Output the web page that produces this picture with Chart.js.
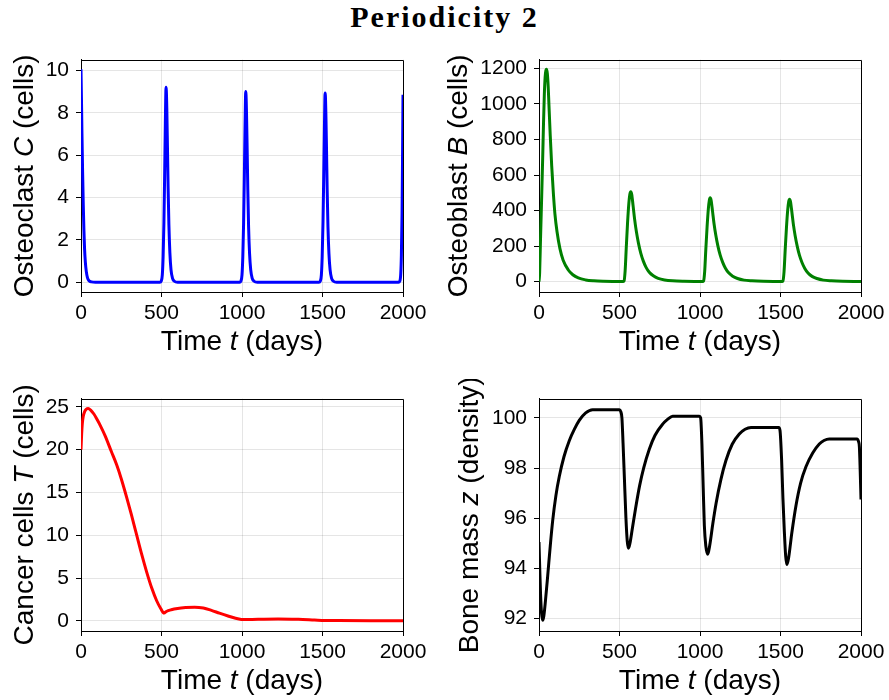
<!DOCTYPE html>
<html>
<head>
<meta charset="utf-8">
<script src="https://cdn.jsdelivr.net/npm/chart.js@4.4.0/dist/chart.umd.min.js"></script>
<style>
  body { margin: 0; background: #fff; }
  #page { position: relative; width: 889px; height: 700px; background: #fff; }
  #title { position: absolute; left: 0; top: 2px; width: 889px; text-align: center;
           font: bold 30px/30px "Liberation Serif", serif; letter-spacing: 2px; color: #000; }
  canvas { position: absolute; }
</style>
</head>
<body>
<div id="page">
  <div id="title">Periodicity 2</div>
  <canvas id="cChart" width="440" height="330" style="left:0;top:40px"></canvas>
  <canvas id="bChart" width="445" height="330" style="left:444px;top:40px"></canvas>
  <canvas id="tChart" width="440" height="321" style="left:0;top:379px"></canvas>
  <canvas id="zChart" width="445" height="321" style="left:444px;top:379px"></canvas>
</div>
<script>
// time axis
var timeTicks = [0, 500, 1000, 1500, 2000];

// osteoclast C (cells), [t, value]
var osteoclastC = [
  [0,10.05],[3,8.6],[6,7.0],[10,5.2],[14,3.7],[18,2.5],[22,1.6],[27,0.95],[33,0.5],[40,0.22],[50,0.07],[65,0.02],[90,0],
  [490,0],[498,0.05],[505,0.35],[510,1.2],[515,2.8],[519,4.8],[523,7.0],[526,8.6],[528,9.2],[530,9.05],[533,8.2],[537,6.4],[541,4.5],[546,2.7],[552,1.4],[559,0.6],[568,0.2],[580,0.05],[600,0],
  [985,0],[993,0.05],[1000,0.35],[1005,1.2],[1010,2.8],[1014,4.7],[1018,6.9],[1021,8.4],[1023,9.0],[1025,8.85],[1028,8.0],[1032,6.3],[1036,4.4],[1041,2.6],[1047,1.35],[1054,0.6],[1063,0.2],[1075,0.05],[1095,0],
  [1478,0],[1486,0.05],[1493,0.35],[1498,1.2],[1503,2.8],[1507,4.7],[1511,6.8],[1514,8.3],[1516,8.93],[1518,8.8],[1521,7.95],[1525,6.25],[1529,4.35],[1534,2.6],[1540,1.35],[1547,0.6],[1556,0.2],[1568,0.05],[1588,0],
  [1972,0],[1980,0.05],[1986,0.4],[1990,1.3],[1994,3.2],[1997,5.8],[2000,8.85]
];
var cTicks = [0, 2, 4, 6, 8, 10];

// osteoblast B (cells)
var osteoblastB = [
  [0,0],[4,50],[10,260],[17,490],[23,700],[28,890],[33,1050],[38,1150],[43,1190],[47,1196],[52,1170],[57,1100],[62,990],[70,820],[79,650],[89,500],[99,380],[112,280],[130,185],[150,120],[182,65],[210,38],[244,20],[290,9],[340,4],[400,1.5],[470,0.5],[522,0.2],
  [528,3],[535,60],[542,190],[550,330],[558,440],[564,490],[570,505],[576,490],[584,430],[594,350],[605,280],[618,215],[632,160],[648,115],[665,80],[685,52],[710,32],[740,18],[780,9],[830,4],[900,1.5],[1000,0.5],[1017,0.3],
  [1022,3],[1029,56],[1036,178],[1044,308],[1052,411],[1058,458],[1063,472],[1069,458],[1077,402],[1087,327],[1098,262],[1111,201],[1125,150],[1141,108],[1158,75],[1178,49],[1203,30],[1233,17],[1273,8],[1323,4],[1393,1.4],[1493,0.5],[1510,0.3],
  [1515,3],[1522,55],[1529,175],[1537,304],[1545,405],[1551,451],[1556,464],[1562,451],[1570,396],[1580,322],[1591,258],[1604,198],[1618,147],[1634,106],[1651,74],[1671,48],[1696,29],[1726,17],[1766,8],[1816,4],[1886,1.4],[1986,0.5],[2000,0.4]
];
var bTicks = [0, 200, 400, 600, 800, 1000, 1200];

// cancer cells T (cells)
var cancerT = [
  [0,20],[4,21.8],[8,23],[14,23.9],[22,24.4],[32,24.7],[45,24.8],[60,24.6],[80,24.15],[100,23.5],[120,22.8],[150,21.6],[188,19.8],[222,18.2],[250,16.6],[284,14.4],[313,12.4],[346,10.0],[375,7.9],[408,5.7],[440,3.8],[470,2.35],[495,1.45],[516,0.92],
  [530,1.1],[561,1.3],[600,1.45],[650,1.55],[706,1.6],[760,1.5],[810,1.23],[860,0.9],[913,0.57],[960,0.3],[996,0.16],[1010,0.15],[1100,0.2],[1224,0.23],[1350,0.18],[1450,0.1],[1513,0.05],[1600,0.04],[1800,0.03],[2000,0.02]
];
var tTicks = [0, 5, 10, 15, 20, 25];

// bone mass z (density)
var boneZ = [
  [0,95.05],[5,93.9],[10,92.9],[16,92.2],[23,91.93],[30,92.1],[40,92.7],[54,93.7],[70,94.9],[85,95.9],[105,96.9],[126,97.66],[155,98.45],[188,99.09],[220,99.55],[250,99.9],[290,100.2],[333,100.33],[499,100.33],
  [508,100.25],[515,100.0],[522,99.0],[530,97.66],[540,96.0],[548,95.1],[556,94.8],[565,95.0],[580,95.6],[600,96.4],[625,97.3],[650,98.0],[685,98.75],[720,99.3],[768,99.75],[800,99.95],[830,100.07],[996,100.07],
  [1004,100.0],[1012,98.96],[1020,97.2],[1027,95.71],[1036,94.9],[1048,94.56],[1060,94.9],[1080,95.8],[1100,96.6],[1130,97.55],[1161,98.3],[1200,98.95],[1244,99.36],[1280,99.55],[1317,99.62],[1489,99.62],
  [1497,99.5],[1507,98.31],[1515,96.8],[1524,95.45],[1532,94.5],[1540,94.15],[1550,94.4],[1570,95.4],[1596,96.5],[1625,97.4],[1658,98.05],[1700,98.6],[1741,98.96],[1770,99.1],[1803,99.16],[1975,99.16],
  [1985,99.05],[1990,98.84],[1995,97.9],[2000,96.75]
];
var zTicks = [92, 94, 96, 98, 100];

var sans = '"Liberation Sans", Arial, sans-serif';
var timeTitle = [['Time ', false], ['t', true], [' (days)', false]];

// top/right frame lines and axis titles (with italic symbols)
var axisTitles = {
  id: 'axisTitles',
  afterDraw: function(chart, args, opts) {
    var ctx = chart.ctx, a = chart.chartArea;
    var top = Math.round(a.top) + 0.5, right = Math.round(a.right) + 0.5;
    ctx.save();
    ctx.strokeStyle = '#000';
    ctx.lineWidth = 1;
    ctx.beginPath();
    ctx.moveTo(Math.round(a.left), top);
    ctx.lineTo(right, top);
    ctx.lineTo(right, Math.round(a.bottom) + 1);
    ctx.stroke();
    ctx.fillStyle = '#000';
    drawParts(ctx, opts.x, (a.left + a.right) / 2, a.bottom + opts.xGap);
    ctx.translate(a.left - opts.yGap, (a.top + a.bottom) / 2);
    ctx.rotate(-Math.PI / 2);
    drawParts(ctx, opts.y, 0, 0);
    ctx.restore();
  }
};

function drawParts(ctx, parts, cx, y) {
  var widths = parts.map(function(p) {
    ctx.font = (p[1] ? 'italic ' : '') + '28px ' + sans;
    return ctx.measureText(p[0]).width;
  });
  var total = widths.reduce(function(s, w) { return s + w; }, 0);
  var x = cx - total / 2;
  ctx.textAlign = 'left';
  ctx.textBaseline = 'alphabetic';
  parts.forEach(function(p, i) {
    ctx.font = (p[1] ? 'italic ' : '') + '28px ' + sans;
    ctx.fillText(p[0], x, y);
    x += widths[i];
  });
}

function plain(v) { return String(v); }

function makeChart(id, series, color, yMin, yMax, yTicks, yTitle, yWidth, yGap, rightPad, xHeight) {
  var ctx = document.getElementById(id).getContext('2d');
  return new Chart(ctx, {
    type: 'line',
    data: {
      datasets: [{
        data: series.map(function(p) { return { x: p[0], y: p[1] }; }),
        borderColor: color,
        borderWidth: 3,
        pointRadius: 0,
        cubicInterpolationMode: 'monotone',
        fill: false
      }]
    },
    options: {
      responsive: false,
      animation: false,
      layout: { padding: { top: 15, right: rightPad, left: 0, bottom: 0 } },
      plugins: {
        legend: { display: false },
        tooltip: { enabled: false },
        axisTitles: { x: timeTitle, y: yTitle, xGap: 58, yGap: yGap }
      },
      scales: {
        x: {
          type: 'linear',
          min: 0,
          max: 2000,
          afterBuildTicks: function(s) { s.ticks = timeTicks.map(function(v) { return { value: v }; }); },
          afterFit: function(s) { s.height = xHeight; },
          grid: { color: 'rgba(0,0,0,0.1)', tickColor: '#000', tickLength: 5 },
          border: { color: '#000', width: 1 },
          ticks: { color: '#000', padding: 4, maxRotation: 0, callback: plain, font: { family: sans, size: 21 } }
        },
        y: {
          min: yMin,
          max: yMax,
          afterBuildTicks: function(s) { s.ticks = yTicks.map(function(v) { return { value: v }; }); },
          afterFit: function(s) { s.width = yWidth; },
          grid: { color: 'rgba(0,0,0,0.1)', tickColor: '#000', tickLength: 5 },
          border: { color: '#000', width: 1 },
          ticks: { color: '#000', padding: 7, callback: plain, font: { family: sans, size: 21 } }
        }
      }
    },
    plugins: [axisTitles]
  });
}

makeChart('cChart', osteoclastC, '#0000ff', -0.46, 10.51, cTicks,
  [['Osteoclast ', false], ['C', true], [' (cells)', false]], 81, 48, 37, 78);
makeChart('bChart', osteoblastB, '#008000', -59, 1250, bTicks,
  [['Osteoblast ', false], ['B', true], [' (cells)', false]], 95, 72.5, 28, 78);
makeChart('tChart', cancerT, '#ff0000', -1.18, 25.95, tTicks,
  [['Cancer cells ', false], ['T', true], [' (cells)', false]], 81, 48, 37, 69);
makeChart('zChart', boneZ, '#000000', 91.5, 100.77, zTicks,
  [['Bone mass ', false], ['z', true], [' (density)', false]], 95, 61, 28, 69);
</script>
</body>
</html>
